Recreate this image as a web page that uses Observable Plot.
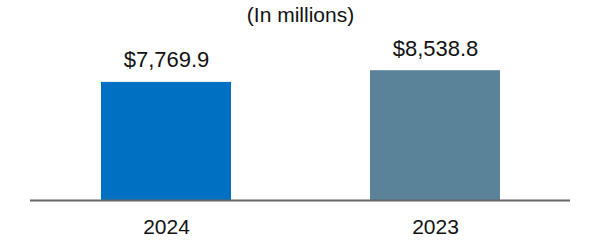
<!DOCTYPE html>
<html>
<head>
<meta charset="utf-8">
<script src="https://cdn.jsdelivr.net/npm/d3@7"></script>
<script src="https://cdn.jsdelivr.net/npm/@observablehq/plot@0.6"></script>
<style>
  html, body { margin: 0; padding: 0; background: #fff; }
  body { width: 600px; font-family: "Liberation Sans", Arial, sans-serif; }
</style>
</head>
<body>
<div id="chart"></div>
<script>
const title = "(In millions)";
const years = ["2024", "2023"];
const values = [7769.9, 8538.8];
const labels = ["$7,769.9", "$8,538.8"];
const colors = ["#0070C2", "#5A8298"];

const data = years.map((y, i) => ({year: y, value: values[i], label: labels[i], color: colors[i]}));

const chart = Plot.plot({
  width: 600,
  height: 240,
  marginTop: 48,
  marginBottom: 40,
  marginLeft: 30,
  marginRight: 30,
  style: {fontFamily: "'Liberation Sans', Arial, sans-serif", fontSize: "22px", color: "#111", background: "#fff"},
  x: {domain: years, paddingInner: 0.5185, paddingOuter: 0.2593, label: null},
  y: {domain: [0, 10000], axis: null},
  marks: [
    Plot.barY(data, {x: "year", y: "value", fill: "color"}),
    Plot.ruleY([0], {stroke: "#666", strokeWidth: 2}),
    Plot.text(data, {x: "year", y: "value", text: "label", dy: -22, fontSize: 22, fill: "#111"}),
    Plot.text([title], {frameAnchor: "top", lineAnchor: "middle", dy: -33, fontSize: 21, fill: "#111"}),
    Plot.axisX({tickSize: 0, tickPadding: 19, fontSize: 21, label: null, color: "#111"})
  ]
});
document.getElementById("chart").appendChild(chart);
</script>
</body>
</html>
